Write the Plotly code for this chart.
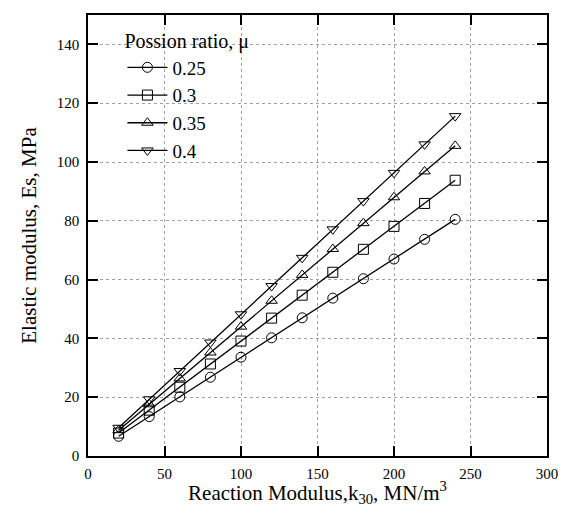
import plotly.graph_objects as go

k30 = [20, 40, 60, 80, 100, 120, 140, 160, 180, 200, 220, 240]
es_025 = [6.7, 13.4, 20.1, 26.8, 33.6, 40.2, 47.0, 53.7, 60.3, 67.0, 73.7, 80.5]
es_030 = [7.8, 15.6, 23.4, 31.3, 39.1, 46.9, 54.7, 62.5, 70.3, 78.1, 85.9, 93.8]
es_035 = [8.8, 17.6, 26.4, 35.2, 44.0, 52.8, 61.6, 70.4, 79.2, 88.0, 96.8, 105.5]
es_040 = [9.6, 19.3, 28.9, 38.6, 48.2, 57.8, 67.4, 77.1, 86.7, 96.3, 106.0, 115.6]
series_names = ["0.25", "0.3", "0.35", "0.4"]
series_values = [es_025, es_030, es_035, es_040]
symbols = ["circle-open", "square-open", "triangle-up-open", "triangle-down-open"]
x_ticks = [0, 50, 100, 150, 200, 250, 300]
y_ticks = [0, 20, 40, 60, 80, 100, 120, 140]

font_family = "Liberation Serif"

fig = go.Figure()
for i, (name, vals, sym) in enumerate(zip(series_names, series_values, symbols)):
    fig.add_trace(go.Scatter(
        x=k30, y=vals, name=name, mode="lines+markers",
        line=dict(color="black", width=1.3),
        marker=dict(symbol=sym, size=10, color="black", line=dict(width=1, color="black")),
        legendgroup=f"g{i}",
    ))

axis_common = dict(
    showline=True, linecolor="black", linewidth=1.6, mirror="ticks",
    ticks="inside", ticklen=10, tickwidth=1.6, tickcolor="black",
    showgrid=True, gridcolor="#a0a0a0", griddash="dot", gridwidth=1,
    zeroline=False, tickfont=dict(family=font_family, size=15, color="black"),
)

fig.update_layout(
    width=558, height=499,
    margin=dict(l=80, r=19, t=5, b=51),
    paper_bgcolor="white", plot_bgcolor="white",
    font=dict(family=font_family, color="black"),
    xaxis=dict(range=[0, 300], tickvals=x_ticks, ticklabelstandoff=3,
               title=dict(text="Reaction Modulus,k<sub>30</sub>, MN/m<sup>3</sup>",
                          font=dict(family=font_family, size=21), standoff=3),
               **axis_common),
    yaxis=dict(range=[0, 150], tickvals=y_ticks, ticklabelstandoff=4,
               title=dict(text="Elastic modulus, Es, MPa",
                          font=dict(family=font_family, size=21), standoff=14),
               **axis_common),
    legend=dict(
        x=0.075, y=0.983, xanchor="left", yanchor="top",
        title=dict(text="Possion ratio, μ", font=dict(family=font_family, size=20)),
        font=dict(family=font_family, size=19),
        bgcolor="rgba(255,255,255,0)", itemwidth=40, tracegroupgap=0,
    ),
)

fig.write_html("out.html")
